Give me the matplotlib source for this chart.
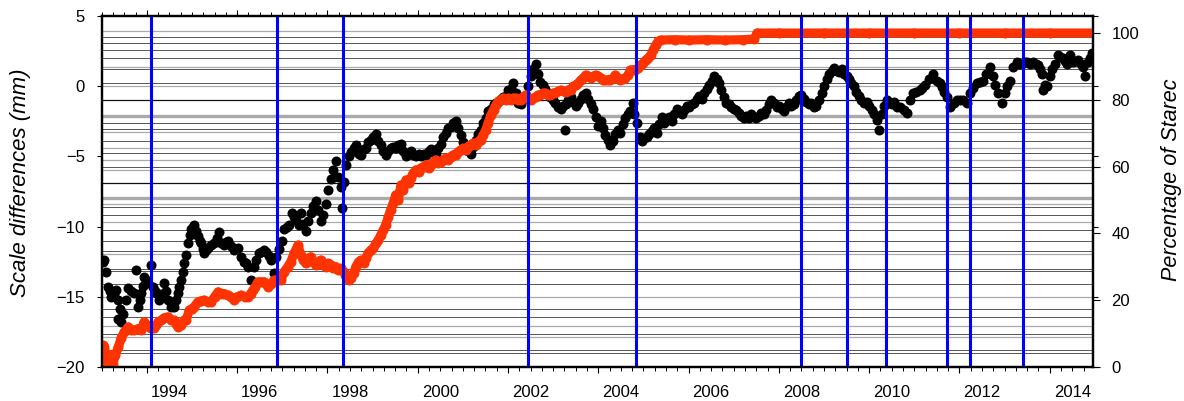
import matplotlib
matplotlib.use("Agg")
import matplotlib.pyplot as plt
from matplotlib.ticker import MultipleLocator, FixedLocator, NullLocator

plt.rcParams['font.family'] = ['Liberation Sans', 'DejaVu Sans']
plt.rcParams['axes.unicode_minus'] = True

# ---------------- data ----------------
# black: scale differences (mm), left axis
bk_year = [
    1993.03, 1993.06, 1993.10, 1993.14, 1993.18, 1993.21, 1993.27, 1993.32, 1993.37, 1993.40,
    1993.37, 1993.42, 1993.47, 1993.54, 1993.59, 1993.65, 1993.72, 1993.76, 1993.81, 1993.84,
    1993.87, 1993.91, 1993.94, 1993.98, 1994.03, 1994.10, 1994.14, 1994.18, 1994.21, 1994.27,
    1994.32, 1994.38, 1994.42, 1994.47, 1994.54, 1994.60, 1994.65, 1994.69, 1994.72, 1994.76,
    1994.80, 1994.83, 1994.87, 1994.91, 1994.95, 1994.98, 1995.02, 1995.05, 1995.09, 1995.13,
    1995.17, 1995.20, 1995.24, 1995.27, 1995.31, 1995.36, 1995.42, 1995.49, 1995.55, 1995.60,
    1995.64, 1995.70, 1995.75, 1995.80, 1995.86, 1995.93, 1996.02, 1996.09, 1996.15, 1996.20,
    1996.24, 1996.31, 1996.37, 1996.42, 1996.48, 1996.54, 1996.60, 1996.64, 1996.70, 1996.75,
    1996.82, 1996.86, 1996.92, 1996.99, 1997.04, 1997.10, 1997.15, 1997.21, 1997.25, 1997.30,
    1997.36, 1997.41, 1997.47, 1997.52, 1997.58, 1997.63, 1997.69, 1997.74, 1997.80, 1997.85,
    1997.90, 1997.96, 1998.02, 1998.08, 1998.13, 1998.19, 1998.24, 1998.30, 1998.33, 1998.36,
    1998.41, 1998.47, 1998.52, 1998.58, 1998.63, 1998.69, 1998.74, 1998.80, 1998.85, 1998.90,
    1998.96, 1999.02, 1999.07, 1999.13, 1999.18, 1999.24, 1999.29, 1999.35, 1999.40, 1999.46,
    1999.51, 1999.57, 1999.63, 1999.68, 1999.74, 1999.80, 1999.85, 1999.90, 1999.96, 2000.02,
    2000.07, 2000.13, 2000.18, 2000.24, 2000.29, 2000.35, 2000.40, 2000.46, 2000.51, 2000.57,
    2000.62, 2000.68, 2000.73, 2000.79, 2000.84, 2000.90, 2000.95, 2001.01, 2001.06, 2001.12,
    2001.17, 2001.23, 2001.29, 2001.34, 2001.40, 2001.45, 2001.51, 2001.56, 2001.62, 2001.68,
    2001.73, 2001.79, 2001.84, 2001.90, 2001.95, 2002.01, 2002.06, 2002.12, 2002.17, 2002.23,
    2002.28, 2002.34, 2002.39, 2002.45, 2002.50, 2002.56, 2002.61, 2002.66, 2002.72, 2002.78,
    2002.83, 2002.89, 2002.94, 2003.00, 2003.05, 2003.11, 2003.17, 2003.22, 2003.26, 2003.28,
    2003.34, 2003.39, 2003.45, 2003.50, 2003.56, 2003.61, 2003.67, 2003.72, 2003.78, 2003.83,
    2003.89, 2003.94, 2004.00, 2004.05, 2004.11, 2004.16, 2004.22, 2004.27, 2004.33, 2004.38,
    2004.44, 2004.49, 2004.55, 2004.60, 2004.66, 2004.71, 2004.77, 2004.80, 2004.86, 2004.92,
    2004.97, 2005.02, 2005.08, 2005.13, 2005.19, 2005.24, 2005.30, 2005.35, 2005.41, 2005.46,
    2005.52, 2005.57, 2005.63, 2005.68, 2005.74, 2005.79, 2005.85, 2005.90, 2005.96, 2006.01,
    2006.07, 2006.12, 2006.18, 2006.23, 2006.29, 2006.34, 2006.40, 2006.45, 2006.51, 2006.56,
    2006.62, 2006.67, 2006.73, 2006.78, 2006.84, 2006.89, 2006.95, 2007.01, 2007.06, 2007.12,
    2007.17, 2007.23, 2007.28, 2007.34, 2007.39, 2007.45, 2007.50, 2007.56, 2007.61, 2007.67,
    2007.72, 2007.78, 2007.83, 2007.89, 2007.95, 2008.00, 2008.06, 2008.11, 2008.17, 2008.22,
    2008.28, 2008.34, 2008.39, 2008.45, 2008.50, 2008.56, 2008.61, 2008.67, 2008.72, 2008.78,
    2008.83, 2008.89, 2008.95, 2009.00, 2009.06, 2009.11, 2009.17, 2009.22, 2009.28, 2009.33,
    2009.39, 2009.45, 2009.50, 2009.56, 2009.61, 2009.67, 2009.72, 2009.78, 2009.83, 2009.89,
    2009.95, 2010.00, 2010.06, 2010.11, 2010.17, 2010.22, 2010.28, 2010.33, 2010.39, 2010.45,
    2010.50, 2010.56, 2010.61, 2010.69, 2010.77, 2010.84, 2010.91, 2010.98, 2011.05, 2011.13,
    2011.18, 2011.24, 2011.33, 2011.42, 2011.50, 2011.56, 2011.62, 2011.67, 2011.73, 2011.80,
    2011.87, 2011.95, 2012.02, 2012.08, 2012.17, 2012.24, 2012.31, 2012.39, 2012.45, 2012.52,
    2012.60, 2012.68, 2012.74, 2012.80, 2012.86, 2012.94, 2013.00, 2013.05, 2013.12, 2013.19,
    2013.28, 2013.33, 2013.39, 2013.45, 2013.50, 2013.57, 2013.63, 2013.69, 2013.74, 2013.79,
    2013.83, 2013.85, 2013.90, 2013.94, 2014.01, 2014.06, 2014.12, 2014.18, 2014.24, 2014.29,
    2014.34, 2014.38, 2014.45, 2014.52, 2014.58, 2014.63, 2014.69, 2014.74, 2014.78, 2014.85,
    2014.90, 2014.94,
]
bk_mm = [
    -12.5, -12.4, -13.2, -14.3, -14.6, -15.0, -14.8, -14.5, -15.2, -15.9,
    -16.6, -16.8, -16.2, -15.2, -14.4, -14.6, -14.7, -13.1, -15.7, -15.2,
    -14.7, -14.2, -13.6, -13.8, -14.0, -12.7, -14.3, -14.6, -14.7, -15.2,
    -14.8, -14.0, -14.6, -15.2, -15.7, -15.7, -15.2, -14.7, -14.3, -13.8,
    -13.2, -12.6, -12.0, -11.2, -10.6, -10.2, -10.0, -9.9, -10.3, -10.7,
    -11.0, -11.2, -11.6, -11.9, -11.7, -11.5, -11.3, -11.2, -10.8, -10.4,
    -11.2, -11.3, -11.1, -11.0, -11.4, -11.7, -11.5, -12.2, -12.5, -12.6,
    -12.9, -13.8, -12.9, -12.4, -11.9, -11.8, -11.7, -11.8, -12.1, -12.4,
    -13.3, -12.2, -11.6, -11.0, -10.2, -10.0, -9.9, -9.0, -9.3, -9.5,
    -9.9, -9.0, -9.8, -10.3, -9.6, -9.0, -8.5, -8.2, -8.8, -9.6,
    -9.2, -8.4, -7.4, -6.6, -6.0, -5.3, -6.5, -7.2, -8.7, -6.8,
    -5.6, -5.0, -4.7, -4.4, -4.2, -4.8, -4.9, -4.5, -4.4, -4.0,
    -3.8, -3.6, -3.4, -3.9, -4.2, -4.6, -4.9, -4.6, -4.4, -4.3,
    -4.4, -4.2, -4.1, -4.6, -5.0, -4.8, -4.6, -4.9, -5.0, -4.8,
    -5.0, -4.8, -4.9, -4.6, -4.5, -4.7, -4.8, -4.4, -4.1, -3.6,
    -3.3, -3.0, -2.9, -2.6, -2.5, -3.0, -3.5, -4.0, -4.4, -4.6,
    -4.8, -4.3, -3.8, -3.4, -3.1, -2.6, -2.3, -1.8, -1.6, -1.3,
    -1.2, -1.1, -0.9, -0.8, -0.7, -0.3, -0.2, 0.2, -0.5, -1.2,
    -1.3, -0.9, -0.6, 0.0, 0.7, 1.2, 1.6, 0.9, 0.3, 0.1,
    -0.2, -0.5, -0.8, -1.0, -1.2, -1.5, -1.6, -1.4, -3.1, -1.3,
    -1.0, -0.8, -1.1, -1.4, -1.2, -0.9, -0.6, -0.5, -0.9, -1.3,
    -1.6, -2.2, -2.8, -2.5, -3.0, -3.5, -3.8, -4.2, -3.9, -3.4,
    -3.1, -3.3, -2.7, -2.3, -2.0, -1.8, -1.2, -2.0, -2.6, -3.6,
    -3.9, -3.7, -3.6, -3.4, -3.2, -3.0, -3.3, -2.7, -2.2, -2.6,
    -2.4, -2.2, -2.5, -2.0, -1.6, -1.8, -2.0, -1.7, -1.4, -1.5,
    -1.3, -1.2, -0.9, -0.7, -0.9, -0.5, -0.2, 0.1, 0.4, 0.7,
    0.5, 0.2, -0.3, -0.8, -1.2, -1.3, -1.5, -1.6, -1.7, -1.9,
    -2.1, -2.3, -2.1, -2.3, -2.0, -2.2, -2.3, -2.1, -1.9, -2.0,
    -1.7, -1.3, -1.0, -1.2, -1.5, -1.4, -1.6, -1.8, -1.5, -1.2,
    -1.4, -1.3, -1.0, -0.7, -0.6, -0.9, -1.1, -1.3, -1.2, -1.5,
    -1.4, -1.0, -0.5, 0.0, 0.5, 0.9, 1.1, 1.3, 1.1, 1.0,
    1.2, 0.9, 0.7, 0.5, 0.2, 0.0, -0.4, -0.7, -1.0, -1.2,
    -1.1, -1.4, -1.7, -2.0, -2.4, -3.1, -2.0, -1.4, -1.0, -1.2,
    -1.3, -1.1, -1.5, -1.5, -1.7, -1.9, -1.0, -0.5, -0.4, -0.3,
    -0.1, 0.1, 0.5, 0.9, 0.4, 0.2, -0.05, -0.4, -0.8, -1.5,
    -1.2, -1.0, -1.0, -1.0, -1.2, -0.5, -0.1, 0.2, 0.3, 0.4,
    0.9, 1.4, 0.7, 0.1, -0.5, -1.2, -0.5, 0.0, 0.4, 1.4,
    1.7, 1.6, 1.6, 1.7, 1.7, 1.6, 1.7, 1.6, 1.5, 1.2,
    0.9, -0.3, 0.1, 0.0, 0.7, 1.2, 1.6, 2.2, 2.1, 2.0,
    1.8, 1.6, 2.2, 1.7, 1.8, 1.9, 1.6, 1.4, 0.7, 1.7,
    2.0, 2.4,
]

# red: percentage of Starec, right axis
rd_year = [
    1993.03, 1993.06, 1993.08, 1993.12, 1993.14, 1993.16, 1993.21, 1993.25, 1993.30, 1993.37,
    1993.43, 1993.50, 1993.59, 1993.65, 1993.72, 1993.81, 1993.87, 1993.94, 1994.00, 1994.05,
    1994.10, 1994.16, 1994.21, 1994.25, 1994.32, 1994.38, 1994.47, 1994.54, 1994.60, 1994.65,
    1994.69, 1994.76, 1994.82, 1994.87, 1994.94, 1995.00, 1995.05, 1995.13, 1995.20, 1995.27,
    1995.35, 1995.42, 1995.50, 1995.58, 1995.65, 1995.71, 1995.79, 1995.86, 1995.93, 1996.00,
    1996.09, 1996.17, 1996.24, 1996.30, 1996.35, 1996.40, 1996.46, 1996.53, 1996.60, 1996.68,
    1996.75, 1996.82, 1996.90, 1996.97, 1997.04, 1997.12, 1997.19, 1997.26, 1997.35, 1997.41,
    1997.47, 1997.52, 1997.58, 1997.63, 1997.69, 1997.74, 1997.80, 1997.85, 1997.90, 1997.96,
    1998.02, 1998.08, 1998.13, 1998.19, 1998.24, 1998.30, 1998.36, 1998.41, 1998.47, 1998.52,
    1998.58, 1998.63, 1998.69, 1998.74, 1998.80, 1998.85, 1998.90, 1998.96, 1999.02, 1999.07,
    1999.13, 1999.18, 1999.24, 1999.29, 1999.35, 1999.40, 1999.46, 1999.51, 1999.57, 1999.63,
    1999.68, 1999.74, 1999.80, 1999.85, 1999.90, 1999.96, 2000.02, 2000.07, 2000.13, 2000.18,
    2000.24, 2000.29, 2000.35, 2000.40, 2000.46, 2000.51, 2000.57, 2000.62, 2000.68, 2000.73,
    2000.79, 2000.84, 2000.90, 2000.95, 2001.01, 2001.06, 2001.12, 2001.17, 2001.23, 2001.29,
    2001.34, 2001.40, 2001.45, 2001.51, 2001.56, 2001.62, 2001.68, 2001.73, 2001.79, 2001.84,
    2001.90, 2001.95, 2002.01, 2002.06, 2002.12, 2002.17, 2002.23, 2002.28, 2002.34, 2002.39,
    2002.45, 2002.50, 2002.56, 2002.61, 2002.66, 2002.72, 2002.78, 2002.83, 2002.89, 2002.94,
    2003.00, 2003.05, 2003.11, 2003.17, 2003.22, 2003.28, 2003.34, 2003.39, 2003.45, 2003.50,
    2003.56, 2003.61, 2003.67, 2003.72, 2003.78, 2003.83, 2003.89, 2003.94, 2004.00, 2004.05,
    2004.11, 2004.16, 2004.22, 2004.27, 2004.33, 2004.38, 2004.44, 2004.49, 2004.55, 2004.60,
    2004.66, 2004.71, 2004.77, 2004.82, 2004.88, 2004.94, 2005.00, 2005.05, 2005.11, 2005.16,
    2005.22, 2005.27, 2005.33, 2005.38, 2005.70, 2006.00, 2006.40, 2006.80, 2007.20, 2007.45,
    2007.52, 2008.00, 2009.00, 2010.00, 2011.00, 2012.00, 2013.00, 2014.00, 2014.96,
]
rd_pct = [
    6.5, 6.0, 0.8, 0.5, 3.8, 0.8, 3.2, 1.0, 3.5, 6.0,
    8.7, 10.5, 12.0, 11.0, 11.0, 11.5, 11.0, 13.5, 12.5, 12.0,
    11.7, 11.7, 12.5, 13.5, 14.0, 14.7, 15.0, 14.0, 14.0, 13.0,
    12.0, 12.5, 14.0, 14.0, 17.0, 17.5, 18.0, 19.5, 19.8, 20.0,
    19.5, 19.5, 21.0, 22.5, 22.0, 22.0, 21.5, 21.0, 20.0, 21.0,
    21.5, 21.0, 21.0, 22.0, 23.0, 24.0, 25.5, 25.5, 25.5, 24.0,
    25.0, 26.0, 26.0, 26.0, 28.5, 30.0, 31.5, 34.0, 36.5, 33.5,
    32.0, 31.0, 32.5, 33.0, 31.5, 30.5, 31.0, 32.0, 30.5, 30.0,
    31.0, 30.5, 29.5, 30.0, 29.0, 29.5, 28.5, 27.0, 26.0, 26.5,
    28.0, 30.0, 31.5, 32.0, 31.0, 32.5, 34.0, 35.0, 35.5, 37.0,
    38.0, 39.5, 41.0, 42.5, 45.0, 47.0, 49.0, 51.5, 50.0, 54.5,
    53.0, 56.0, 55.0, 56.6, 58.0, 59.0, 58.5, 59.6, 60.0, 60.5,
    59.5, 60.5, 61.5, 62.0, 61.0, 61.4, 62.0, 62.6, 62.0, 63.0,
    63.5, 63.5, 64.5, 65.0, 65.5, 65.0, 66.0, 66.5, 67.0, 66.5,
    67.5, 68.0, 69.5, 71.0, 73.0, 75.4, 77.0, 78.4, 79.5, 79.9,
    80.5, 79.9, 80.5, 79.9, 80.5, 80.5, 80.0, 79.9, 80.8, 81.4,
    80.5, 79.9, 80.5, 80.8, 81.4, 81.4, 82.0, 82.0, 81.5, 81.4,
    82.0, 82.0, 82.5, 82.9, 82.5, 82.3, 83.0, 82.9, 84.0, 84.4,
    85.0, 85.9, 86.5, 87.4, 87.0, 86.5, 87.0, 87.4, 87.0, 86.5,
    86.0, 85.9, 86.0, 85.9, 86.5, 87.4, 86.5, 85.9, 86.2, 86.5,
    87.5, 88.9, 89.0, 88.9, 89.5, 90.4, 91.0, 91.9, 92.5, 93.4,
    95.0, 96.4, 97.5, 97.9, 98.0, 97.9, 98.0, 97.9, 98.0, 98.2,
    100.0, 100.0, 100.0, 100.0, 100.0, 100.0, 100.0, 100.0, 100.0,
]

# vertical blue event lines (decimal years)
event_years = [1994.10, 1996.88, 1998.34, 2002.44, 2004.83, 2008.50,
               2009.52, 2010.38, 2011.73, 2012.24, 2013.41]

# horizontal reference lines (left axis, mm) and their kind
hl_mm = [3.93, 3.50, 3.08, 2.58, 2.01, 1.37, 1.23, 0.23, 0.01, -0.98,
         -2.12, -2.62, -3.05, -3.26, -3.90, -4.40, -4.76, -5.26, -5.75, -5.97,
         -6.90, -7.96, -8.39, -8.60, -9.17, -9.67, -10.24, -11.03, -11.74, -11.95,
         -13.02, -13.16, -14.09, -15.01, -15.87, -16.44, -17.08, -17.65, -17.86, -18.79,
         -19.00]
hl_kind = ['L', 'D', 'D', 'D', 'D', 'L', 'D', 'D', 'L', 'B',
           'T', 'D', 'D', 'L', 'D', 'L', 'D', 'L', 'D', 'L',
           'B', 'T', 'L', 'D', 'D', 'L', 'D', 'D', 'D', 'L',
           'D', 'D', 'D', 'L', 'D', 'D', 'L', 'D', 'L', 'D',
           'D']

left_ticks = [-20, -15, -10, -5, 0, 5]
right_ticks = [0, 20, 40, 60, 80, 100]
year_labels = [1994, 1996, 1998, 2000, 2002, 2004, 2006, 2008, 2010, 2012, 2014]

# ---------------- styling ----------------
hl_style = {
    'L': dict(color='#aaaaaa', lw=0.9),
    'D': dict(color='#555555', lw=0.7),
    'B': dict(color='#111111', lw=0.9),
    'T': dict(color='#aaaaaa', lw=2.4),
}

W, H = 1184, 401
fig = plt.figure(figsize=(W / 100, H / 100), dpi=100)
x0, x1, y0, y1 = 101.7, 1093.0, 16.0, 367.0
ax = fig.add_axes([x0 / W, 1 - y1 / H, (x1 - x0) / W, (y1 - y0) / H])
ax2 = ax.twinx()

ax.set_xlim(1993.0, 2014.96)
ax.set_ylim(-20, 5)
ax2.set_ylim(0, 105.1)

for lvl, k in zip(hl_mm, hl_kind):
    ax.axhline(lvl, zorder=1, **hl_style[k])

ax.plot(bk_year, bk_mm, 'o', color='black', ms=7.2, mew=0, zorder=3)

ax2.plot(rd_year, rd_pct, '-o', color='#ff3300', ms=7.2, mew=0, lw=6.6,
         solid_capstyle='round', solid_joinstyle='round', zorder=3)

for ev in event_years:
    ax2.axvline(ev, color='#0000ff', lw=2.2, zorder=4)

for a in (ax, ax2):
    for s in a.spines.values():
        s.set_linewidth(1.6)
        s.set_zorder(6)

# x ticks
ax.xaxis.set_major_locator(MultipleLocator(2))
ax.xaxis.set_minor_locator(MultipleLocator(0.25))
ax.tick_params(axis='x', which='both', direction='out', top=True, bottom=True,
               labelbottom=False, labeltop=False)
ax.tick_params(axis='x', which='major', length=4.5, width=0.8)
ax.tick_params(axis='x', which='minor', length=2.6, width=0.7)

# left y
ax.yaxis.set_major_locator(FixedLocator(left_ticks))
ax.yaxis.set_minor_locator(NullLocator())
ax.tick_params(axis='y', which='major', direction='out', left=True, right=True,
               labelleft=True, labelright=False, length=3.6, width=0.8,
               pad=8.5, labelsize=12)

# right y
ax2.yaxis.set_major_locator(FixedLocator(right_ticks))
ax2.yaxis.set_minor_locator(NullLocator())
ax2.tick_params(axis='y', which='major', direction='out', length=5, width=0.8,
                pad=8.2, labelsize=12)

# year labels centred in the year interval
for yr in year_labels:
    ax.annotate(str(yr), xy=(yr + 0.5, 0), xycoords=ax.get_xaxis_transform(),
                xytext=(0, -21.6), textcoords='offset points',
                ha='center', va='baseline', fontsize=12)

fig.text(21 / W, 1 - 183 / H, 'Scale differences (mm)', rotation=90,
         ha='center', va='center', fontsize=16, style='italic')
fig.text(1172 / W, 1 - 180 / H, 'Percentage of Starec', rotation=90,
         ha='center', va='center', fontsize=15.5, style='italic')

fig.savefig('out.png', dpi=100)
